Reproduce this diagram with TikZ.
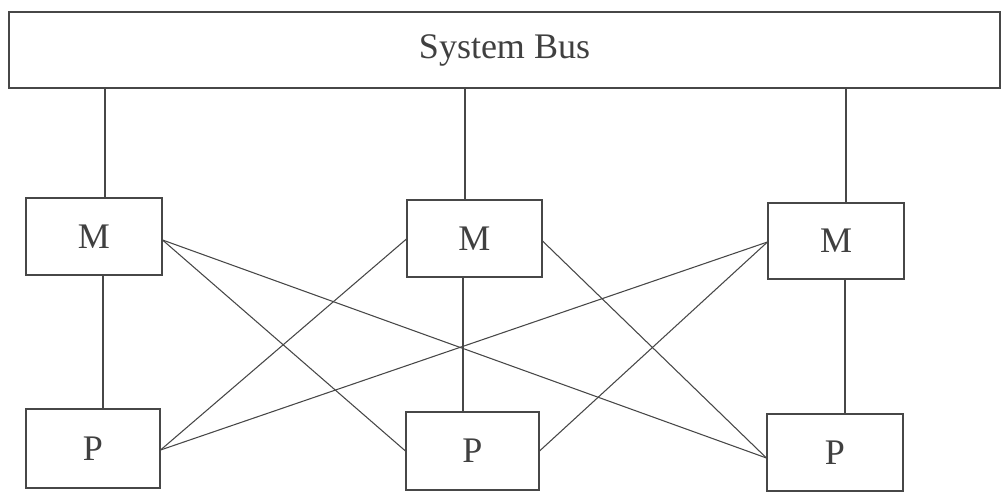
\documentclass[tikz,border=0pt]{standalone}
\usepackage{fontspec}
\setmainfont{Liberation Serif}
\begin{document}
\begin{tikzpicture}[x=0.75pt,y=-0.75pt,
  ln/.style={draw=black!72, line width=0.8pt},
  unit/.style={ln, rectangle, inner sep=0pt, text=black!75,
    font=\fontsize{27}{30}\selectfont}]
\useasboundingbox (0,0) rectangle (1004,492);
\node[unit, minimum width={991*0.75pt}, minimum height={76*0.75pt}] (bus) at (504.5,50) {System Bus};
\node[unit, minimum width={136*0.75pt}, minimum height={77*0.75pt}] (m1) at (94,236.5) {M};
\node[unit, minimum width={135*0.75pt}, minimum height={77*0.75pt}] (m2) at (474.5,238.5) {M};
\node[unit, minimum width={136*0.75pt}, minimum height={76*0.75pt}] (m3) at (836,241) {M};
\node[unit, minimum width={134*0.75pt}, minimum height={79*0.75pt}] (p1) at (93,448.5) {P};
\node[unit, minimum width={133*0.75pt}, minimum height={78*0.75pt}] (p2) at (472.5,451) {P};
\node[unit, minimum width={136*0.75pt}, minimum height={77*0.75pt}] (p3) at (835,452.5) {P};
% bus to memories
\draw[ln] (bus.south -| 105,0) -- (m1.north -| 105,0);
\draw[ln] (bus.south -| 465,0) -- (m2.north -| 465,0);
\draw[ln] (bus.south -| 846,0) -- (m3.north -| 846,0);
% memory to processor
\draw[ln] (m1.south -| 103,0) -- (p1.north -| 103,0);
\draw[ln] (m2.south -| 463,0) -- (p2.north -| 463,0);
\draw[ln] (m3.south -| 845,0) -- (p3.north -| 845,0);
% crossbar
\coordinate (m1e) at (m1.east |- 0,240);
\coordinate (p1e) at (p1.east |- 0,450);
\coordinate (m3w) at (m3.west |- 0,242);
\coordinate (p3w) at (p3.west |- 0,458);
\draw[ln] (m1e) -- (p2.west |- 0,451);
\draw[ln] (m1e) -- (p3w);
\draw[ln] (m2.west |- 0,239) -- (p1e);
\draw[ln] (m2.east |- 0,241) -- (p3w);
\draw[ln] (m3w) -- (p1e);
\draw[ln] (m3w) -- (p2.east |- 0,451);
\end{tikzpicture}
\end{document}
